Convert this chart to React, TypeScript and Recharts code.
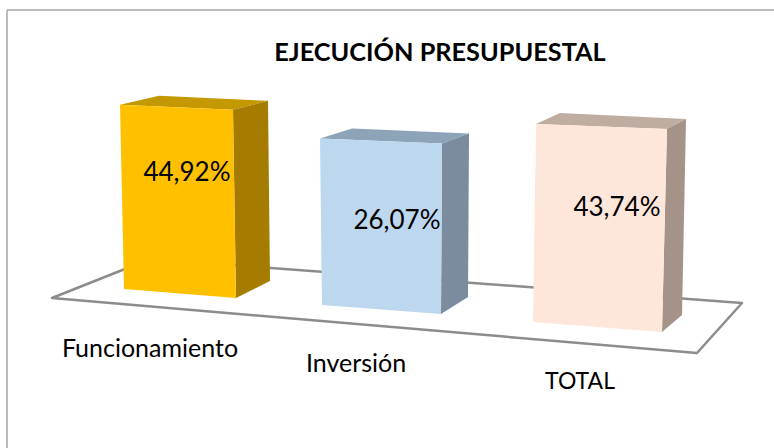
import { Bar, BarChart, LabelList, XAxis, YAxis } from "recharts";

const categories = ["Funcionamiento", "Inversión", "TOTAL"];
const values = [44.92, 26.07, 43.74];

const data = categories.map((name, i) => ({ name, value: values[i] }));

const WIDTH = 774;
const HEIGHT = 448;
const AXIS_HEIGHT = 30;
const MARGIN = { top: 100, right: 71, bottom: 129, left: 73 };
const BASELINE = HEIGHT - MARGIN.bottom - AXIS_HEIGHT;
const FONT = "Lato, 'Open Sans', sans-serif";

const faces = [
  { front: "#FFC000", side: "#A67C00", top: "#C49800" },
  { front: "#BDD7EE", side: "#7A8C9E", top: "#8DA3B8" },
  { front: "#FFE6DA", side: "#A59389", top: "#C0ADA2" },
];

// the original is a perspective 3D chart, so every box leans a bit differently
const views = [
  { tl: [2, 0], tr: [-5, 5], br: [-2, 9], bl: [6, 0], backL: [39, -9], backR: [35, -9], backB: [34, -17] },
  { tl: [-8, 16], tr: [-6, 21], br: [-7, 25], bl: [-6, 16], backL: [32, -10], backR: [27, -10], backB: [27, -17] },
  { tl: [-2, 18], tr: [9, 23], br: [4, 43], bl: [-5, 33], backL: [24, -11], backR: [19, -10], backB: [20, -17] },
];

const labelOffsets = [
  { dx: 9, dy: 76 },
  { dx: 9, dy: 106 },
  { dx: 19, dy: 110 },
];

const tickOffsets = [
  { dx: -28, y: 357, size: 25 },
  { dx: -32, y: 372, size: 25 },
  { dx: -18, y: 389, size: 23 },
];

const pts = (list: number[][]) => list.map((p) => p.join(",")).join(" ");

function Box(props: any) {
  const { x, y, width, index } = props;
  const v = views[index];
  const c = faces[index];
  const tl = [x + v.tl[0], y + v.tl[1]];
  const tr = [x + width + v.tr[0], y + v.tr[1]];
  const br = [x + width + v.br[0], BASELINE + v.br[1]];
  const bl = [x + v.bl[0], BASELINE + v.bl[1]];
  const backL = [tl[0] + v.backL[0], tl[1] + v.backL[1]];
  const backR = [tr[0] + v.backR[0], tr[1] + v.backR[1]];
  const backB = [br[0] + v.backB[0], br[1] + v.backB[1]];
  return (
    <g>
      <polygon points={pts([tl, backL, backR, tr])} fill={c.top} />
      <polygon points={pts([tr, backR, backB, br])} fill={c.side} />
      <polygon points={pts([tl, tr, br, bl])} fill={c.front} />
    </g>
  );
}

function ValueLabel(props: any) {
  const { x, y, width, value, index } = props;
  const o = labelOffsets[index];
  return (
    <text x={x + width / 2 + o.dx} y={y + o.dy} textAnchor="middle" fontFamily={FONT} fontSize={26} fill="#000">
      {value.toFixed(2).replace(".", ",")}%
    </text>
  );
}

function Tick(props: any) {
  const { x, payload, index } = props;
  const o = tickOffsets[index];
  return (
    <text x={x + o.dx} y={o.y} textAnchor="middle" fontFamily={FONT} fontSize={o.size} fill="#000">
      {payload.value}
    </text>
  );
}

export default function App() {
  return (
    <div style={{ position: "absolute", left: 0, top: 0, width: WIDTH, height: HEIGHT, background: "#fff" }}>
      <BarChart width={WIDTH} height={HEIGHT} data={data} margin={MARGIN}>
        <line x1={7} y1={10} x2={WIDTH} y2={10} stroke="#a6a6a6" strokeWidth={1.5} />
        <line x1={7} y1={10} x2={7} y2={HEIGHT} stroke="#a6a6a6" strokeWidth={1.5} />
        <polygon points="52,298 150,259 742,303 697,353" fill="#fff" stroke="#8c8c8c" strokeWidth={2.5} strokeLinejoin="round" />
        <text x={440} y={61} textAnchor="middle" fontFamily={FONT} fontSize={25.3} fontWeight={700} fill="#000">
          EJECUCIÓN PRESUPUESTAL
        </text>
        <XAxis dataKey="name" axisLine={false} tickLine={false} tick={<Tick />} interval={0} height={AXIS_HEIGHT} />
        <YAxis hide domain={[-150, 50]} />
        <Bar dataKey="value" barSize={120} shape={(p: any) => <Box {...p} />} isAnimationActive={false}>
          <LabelList dataKey="value" content={(p: any) => <ValueLabel {...p} />} />
        </Bar>
      </BarChart>
    </div>
  );
}
